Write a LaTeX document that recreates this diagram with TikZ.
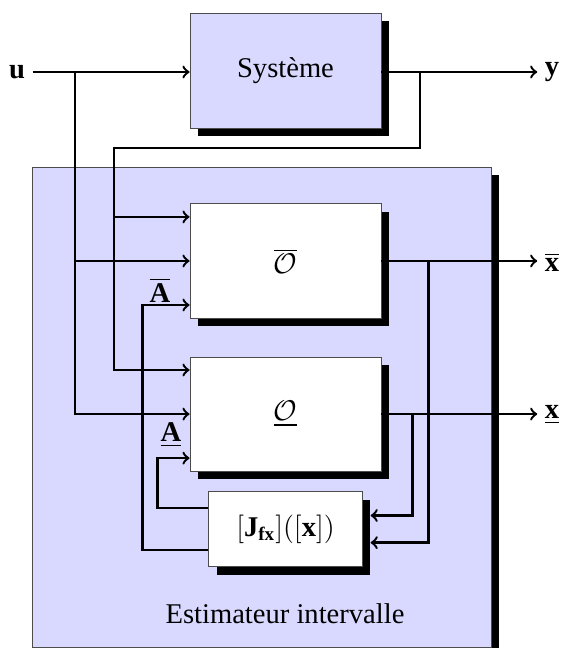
\documentclass[tikz,border=0pt,12pt]{standalone}
\usepackage{amsmath}
\usepackage{fontspec}
\setmainfont{Liberation Serif}
\usetikzlibrary{positioning, shadows, arrows}
\definecolor{lavande}{RGB}{217,217,255}
\tikzset{
        >=to, % open arrow heads
        bloc/.style={draw=black!70, fill=white, minimum width=80.2pt, minimum height=47.9pt,
                drop shadow={opacity=1, fill=black, shadow xshift=3.4pt, shadow yshift=-3.4pt}},
        fil/.style={line width=1pt},
        sortie/.style={inner sep=3pt}
        }
\begin{document}
\begin{tikzpicture}[x=0.42pt, y=-0.42pt]
        \useasboundingbox (0,0) rectangle (561,648);
        % estimateur
        \node[bloc, fill=lavande, minimum width=192.4pt, minimum height=201.6pt](est) at (262,407){};
        \node(esttxt) at (285,614){Estimateur intervalle};
        % blocs
        \node[bloc, fill=lavande, minimum height=48.3pt](sys) at (285.5,70.5){Système};
        \node[bloc, below of=sys, node distance=80pt](obar){$\overline{\mathcal{O}}$};
        \node[bloc, below of=obar, node distance=64.3pt](ounder){$\underline{\mathcal{O}}$};
        \node[bloc, below of=ounder, node distance=48.3pt, minimum width=64.3pt, minimum height=31.5pt](jac){$[\textbf{J}_{\textbf{fx}}]([\textbf{x}])$};
        % entrees / sorties
        \node[sortie](u) at (17,72){\textbf{u}};
        \node[sortie](y) at (552,72){\textbf{y}};
        \node[sortie](xsup) at (552,262){$\overline{\textbf{x}}$};
        \node[sortie](xinf) at (552,415){$\underline{\textbf{x}}$};
        \node(asup) at (160,290){$\overline{\textbf{A}}$};
        \node(ainf) at (171,435){$\underline{\textbf{A}}$};
        % points d'entree des observateurs
        \coordinate (obar1) at ([yshift=18.5pt]obar.west);
        \coordinate (obar2) at (obar.west);
        \coordinate (obar3) at ([yshift=-18.5pt]obar.west);
        \coordinate (ou1) at ([yshift=18.5pt]ounder.west);
        \coordinate (ou2) at (ounder.west);
        \coordinate (ou3) at ([yshift=-18.5pt]ounder.west);
        \coordinate (bu) at (75,72);
        \coordinate (by) at (420,72);
        \coordinate (bk) at (114,148);
        \draw[fil, ->] (u.east) -- (u -| sys.west);
        \draw[fil, ->] (sys.east |- y) -- (y.west);
        \draw[fil, ->] (bu) |- (ou2);
        \draw[fil, ->] (bu |- obar2) -- (obar2);
        \draw[fil, ->] (by) |- (bk) |- (ou1);
        \draw[fil, ->] (bk |- obar1) -- (obar1);
        % sorties des observateurs
        \draw[fil, ->] (obar.east) -- (obar.east -| xsup.west);
        \draw[fil, ->] (ounder.east) -- (ounder.east -| xinf.west);
        \draw[fil, ->] ([xshift=19.7pt]obar.east) |- ([xshift=3.4pt, yshift=-5.7pt]jac.east);
        \draw[fil, ->] ([xshift=13pt]ounder.east) |- ([xshift=3.4pt, yshift=5.7pt]jac.east);
        % retour de la jacobienne
        \draw[fil, ->] ([yshift=8.8pt]jac.west) -- ++(-21.4pt,0) |- (ou3);
        \draw[fil, ->] ([yshift=-8.8pt]jac.west) -- ++(-27.7pt,0) |- (obar3);
\end{tikzpicture}
\end{document}
